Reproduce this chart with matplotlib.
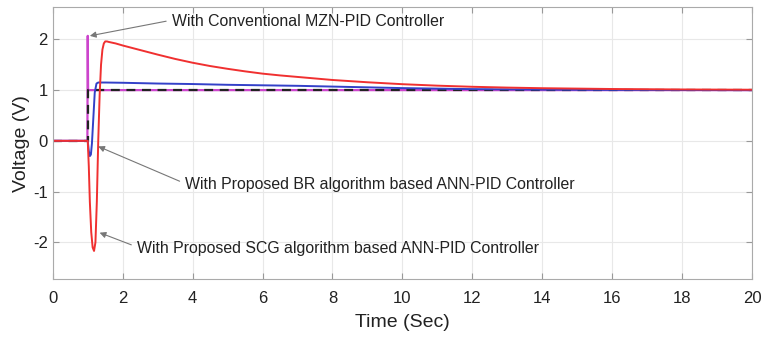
import numpy as np
import matplotlib
matplotlib.use('Agg')
import matplotlib.pyplot as plt

plt.rcParams['font.family'] = ['Liberation Sans', 'DejaVu Sans']
plt.rcParams['axes.unicode_minus'] = False

# Reference step input
t_ref = [0, 1.0, 1.0, 20]
v_ref = [0, 0, 1.0, 1.0]

# Conventional MZN-PID controller
t_mzn = [0, 0.99, 1.0, 1.01, 20]
v_mzn = [0, 0, 2.07, 1.0, 1.0]

# Proposed BR algorithm based ANN-PID controller
t_br = [0, 1.0, 1.03, 1.06, 1.09, 1.12, 1.16, 1.20, 1.25, 1.30, 1.5, 2, 3, 4, 5, 6, 7, 8, 9, 10, 11, 12, 14, 16, 20]
v_br = [0, 0, -0.20, -0.30, -0.27, -0.05, 0.45, 0.95, 1.13, 1.15, 1.15, 1.145, 1.13, 1.12, 1.105, 1.095,
        1.085, 1.07, 1.055, 1.04, 1.03, 1.02, 1.01, 1.005, 1.0]

# Proposed SCG algorithm based ANN-PID controller
t_scg = [0, 1.0, 1.03, 1.06, 1.10, 1.14, 1.18, 1.22, 1.26, 1.30, 1.34, 1.38, 1.42, 1.46, 1.50, 1.55, 1.6,
         1.8, 2, 2.25, 2.5, 2.75, 3, 3.5, 4, 4.5, 5, 5.5, 6, 6.5, 7, 7.5, 8, 9, 10, 11, 12, 13, 14, 16, 18, 20]
v_scg = [0, 0, -0.5, -1.2, -1.8, -2.1, -2.17, -2.0, -1.2, 0.0, 0.9, 1.5, 1.8, 1.92, 1.96, 1.96, 1.95,
         1.92, 1.88, 1.835, 1.79, 1.745, 1.70, 1.615, 1.54, 1.475, 1.42, 1.37, 1.325, 1.29, 1.26, 1.23,
         1.20, 1.155, 1.117, 1.088, 1.066, 1.05, 1.038, 1.022, 1.013, 1.008]

x_ticks = np.arange(0, 21, 2)
y_ticks = [-2, -1, 0, 1, 2]

fig = plt.figure(figsize=(7.65, 3.38), dpi=100)
ax = fig.add_axes([0.069, 0.175, 0.914, 0.803])

ax.plot(t_mzn, v_mzn, color='#cc44cc', linewidth=1.6)
ax.plot(t_ref, v_ref, color='#222222', linewidth=1.6, linestyle=(0, (4, 3)))
ax.plot(t_br, v_br, color='#3340c8', linewidth=1.4)
ax.plot(t_scg, v_scg, color='#f03030', linewidth=1.4)

ax.set_xlim(0, 20)
ax.set_ylim(-2.72, 2.63)
ax.set_xticks(x_ticks)
ax.set_yticks(y_ticks)
ax.grid(True, color='#e8e8e8', linewidth=0.8)
ax.set_axisbelow(True)
ax.tick_params(direction='in', top=True, right=True, labelsize=12, colors='#222222', length=4)
ax.tick_params(axis='x', pad=8.5)
ax.tick_params(color='#999999')
for spine in ax.spines.values():
    spine.set_color('#aaaaaa')

ax.set_xlabel('Time (Sec)', fontsize=14, color='#222222', labelpad=6)
ax.set_ylabel('Voltage (V)', fontsize=14, color='#222222', labelpad=2)

arrow = dict(arrowstyle='-|>', color='#777777', lw=0.8, mutation_scale=9,
             shrinkA=2, shrinkB=0, relpos=(0, 0.6))
ax.annotate('With Conventional MZN-PID Controller', xy=(1.06, 2.07), xytext=(3.4, 2.35),
            ha='left', va='center', fontsize=11.4, color='#222222', arrowprops=arrow)
ax.annotate('With Proposed BR algorithm based ANN-PID Controller', xy=(1.3, -0.11), xytext=(3.78, -0.87),
            ha='left', va='center', fontsize=11.4, color='#222222', arrowprops=arrow)
ax.annotate('With Proposed SCG algorithm based ANN-PID Controller', xy=(1.34, -1.81), xytext=(2.4, -2.12),
            ha='left', va='center', fontsize=11.4, color='#222222', arrowprops=arrow)

fig.savefig('out.png', dpi=100)
